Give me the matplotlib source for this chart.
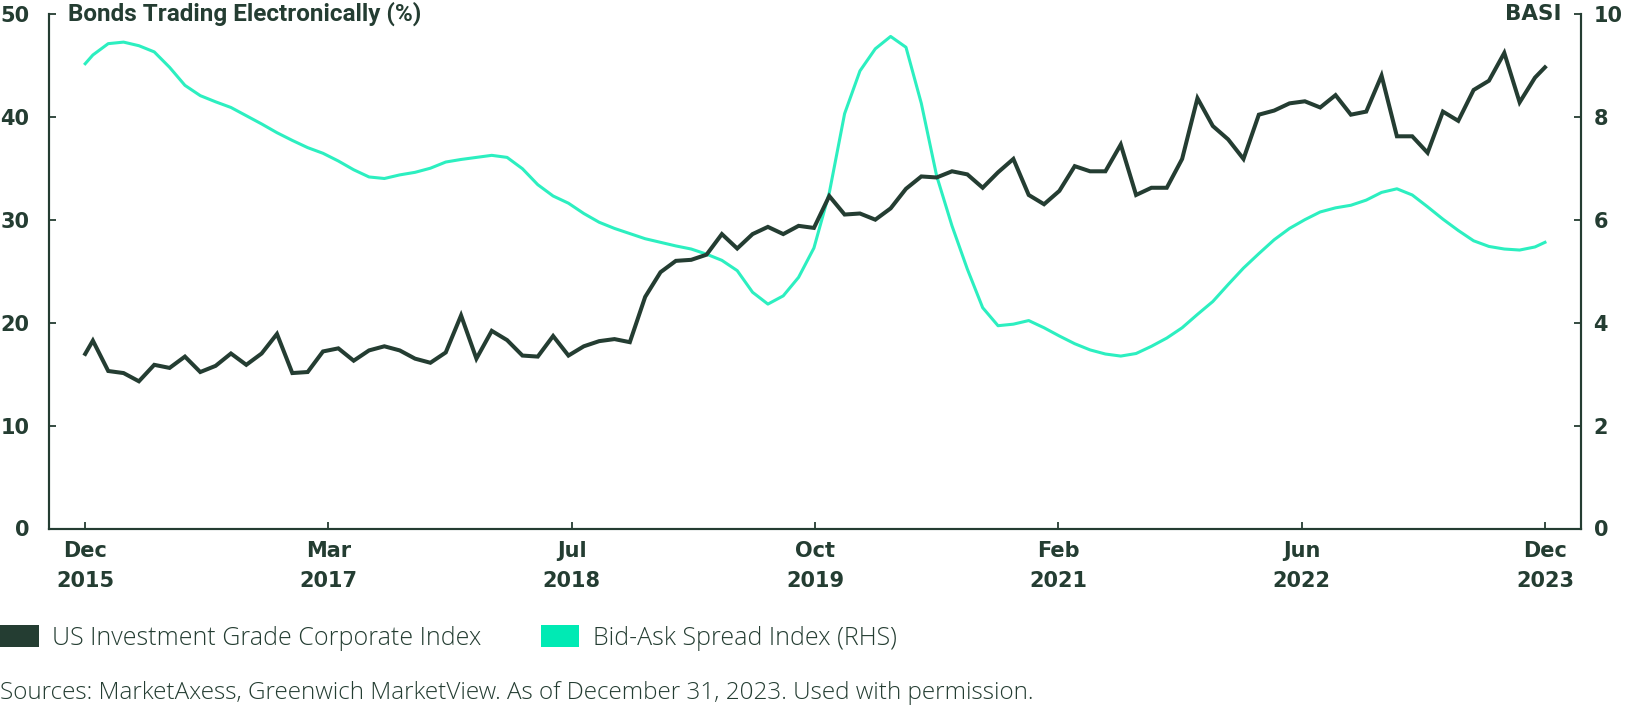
import numpy as np
import matplotlib
matplotlib.use("Agg")
import matplotlib.pyplot as plt
from matplotlib.patches import Patch

# colours
DARK = '#243d32'
TEAL = '#2cefc0'

# x positions in months from the first point (first/last points sit on the end ticks)
x = np.concatenate([[0.0], np.arange(95) + 0.5, [95.15]])

# US Investment Grade Corporate Index, % trading electronically (left axis)
ig_index = [16.96, 18.25, 15.3, 15.1, 14.3, 15.9, 15.6, 16.7, 15.2, 15.8, 17.0, 15.9,
            17.0, 18.9, 15.1, 15.2, 17.2, 17.5, 16.3, 17.3, 17.7, 17.3, 16.5, 16.1,
            17.1, 20.7, 16.5, 19.2, 18.3, 16.8, 16.7, 18.7,
            16.8, 17.7, 18.2, 18.4, 18.1, 22.5, 24.9, 26.0, 26.1, 26.6, 28.6, 27.2,
            28.6, 29.3, 28.6, 29.4, 29.2, 32.3, 30.5, 30.6, 30.0, 31.1, 33.0, 34.2,
            34.1, 34.7, 34.4, 33.1, 34.6, 35.9, 32.4, 31.5, 32.8, 35.2, 34.7,
            34.7, 37.3, 32.4, 33.1, 33.1, 35.9, 41.8, 39.1, 37.8, 35.9, 40.2, 40.6,
            41.3, 41.5, 40.9, 42.1, 40.2, 40.5, 44.0, 38.1, 38.1, 36.5, 40.5, 39.6,
            42.6, 43.5, 46.2, 41.4, 43.8, 44.8]

# Bid-Ask Spread Index (right axis)
basi = [9.03, 9.20, 9.42, 9.45, 9.38, 9.26, 8.96, 8.61, 8.41, 8.29, 8.18, 8.02,
        7.86, 7.69, 7.54, 7.40, 7.29, 7.14, 6.97, 6.83, 6.80, 6.87, 6.92, 7.00,
        7.12, 7.17, 7.21, 7.25, 7.21, 6.99, 6.68, 6.46,
        6.32, 6.12, 5.95, 5.83, 5.73, 5.63, 5.56, 5.49, 5.43, 5.33, 5.21, 5.01,
        4.59, 4.36, 4.52, 4.88, 5.45, 6.52, 8.06, 8.89, 9.32, 9.56, 9.35, 8.26,
        6.85, 5.88, 5.04, 4.29, 3.94, 3.97, 4.04, 3.90, 3.74, 3.59, 3.47,
        3.39, 3.35, 3.40, 3.54, 3.70, 3.90, 4.16, 4.41, 4.74, 5.06, 5.34, 5.61,
        5.83, 6.00, 6.15, 6.23, 6.28, 6.38, 6.53, 6.60, 6.48, 6.25, 6.01, 5.79,
        5.59, 5.48, 5.43, 5.41, 5.47, 5.56]

tick_labels = ['Dec\n2015', 'Mar\n2017', 'Jul\n2018', 'Oct\n2019', 'Feb\n2021', 'Jun\n2022', 'Dec\n2023']

LIGHT = ['Open Sans', 'Roboto', 'DejaVu Sans']

plt.rcParams['font.family'] = ['DejaVu Sans']
plt.rcParams['text.color'] = DARK

fig = plt.figure(figsize=(16.26, 7.10), dpi=100)
ax = fig.add_axes([49 / 1626, 1 - 528.5 / 710, (1581 - 49) / 1626, (528.5 - 13.8) / 710])
ax2 = ax.twinx()

ax.plot(x, ig_index, color=DARK, lw=2.9, solid_joinstyle='miter', zorder=3)
ax2.plot(x, basi, color=TEAL, lw=2.2, zorder=2)
ax.set_zorder(ax2.get_zorder() + 1)
ax.patch.set_visible(False)

ax.set_xlim(-2.36, 97.5)
ax.set_ylim(0, 50)
ax2.set_ylim(0, 10)
ax.set_yticks([0, 10, 20, 30, 40, 50])
ax2.set_yticks([0, 2, 4, 6, 8, 10])
ax.set_xticks(np.linspace(x[0], x[-1], 7))
ax.set_xticklabels(tick_labels, linespacing=1.6)

for a in (ax, ax2):
    for s in a.spines.values():
        s.set_color(DARK)
        s.set_linewidth(1.5)
    a.spines['top'].set_visible(False)
    a.tick_params(direction='in', length=5, width=1.3, color=DARK, labelcolor=DARK)
    for lab in a.get_yticklabels() + a.get_xticklabels():
        lab.set_fontweight('bold')
        lab.set_fontsize(15)

ax.tick_params(axis='y', pad=14)
ax2.tick_params(axis='y', pad=9)
ax.tick_params(axis='x', pad=9)

fig.text(68 / 1626, 1 - 14 / 710, 'Bonds Trading Electronically (%)', fontsize=17.5,
         family=['Roboto', 'DejaVu Sans'], fontweight='bold', va='center', ha='left', color=DARK)
fig.text(1561 / 1626, 1 - 14 / 710, 'BASI', fontsize=15.5,
         fontweight='bold', va='center', ha='right', color=DARK)

handles = [Patch(facecolor=DARK, edgecolor='none'), Patch(facecolor='#00eab4', edgecolor='none')]
fig.legend(handles, ['US Investment Grade Corporate Index', 'Bid-Ask Spread Index (RHS)'],
           loc='center left', bbox_to_anchor=(0, 1 - 638 / 710), ncol=2, frameon=False,
           prop={'family': LIGHT, 'size': 18, 'weight': 'light'}, handlelength=1.55,
           handleheight=0.95, handletextpad=0.55, columnspacing=2.35, borderpad=0,
           borderaxespad=0, labelcolor=DARK)

fig.text(0, 1 - 693 / 710, 'Sources: MarketAxess, Greenwich MarketView. As of December 31, 2023. Used with permission.',
         fontsize=17.5, family=LIGHT, fontweight='light', va='center', ha='left', color=DARK)

fig.savefig('out.png', dpi=100)
